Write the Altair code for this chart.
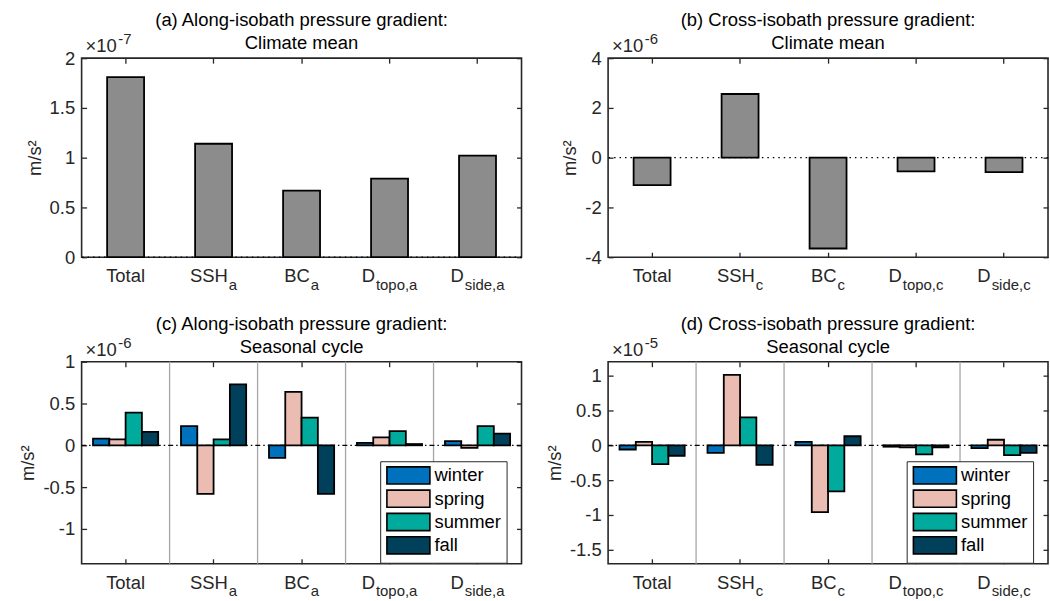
import altair as alt
import pandas as pd

# ---------------- data ----------------
cats = ["Total", "SSH", "BC", "Dtopo", "Dside"]
label_base = ["Total", "SSH", "BC", "D", "D"]
label_sub_a = ["", "a", "a", "topo,a", "side,a"]
label_sub_c = ["", "c", "c", "topo,c", "side,c"]

# climate mean (a) along-isobath, units of 1e-7 m/s^2
mean_along = [1.81, 1.14, 0.67, 0.79, 1.02]
# climate mean (b) cross-isobath, units of 1e-6 m/s^2
mean_cross = [-1.10, 2.56, -3.65, -0.55, -0.58]

seasons = ["winter", "spring", "summer", "fall"]
season_colors = ["#0072BD", "#EBBDB2", "#00AA9C", "#00405A"]

# seasonal cycle (c) along-isobath, units of 1e-6 m/s^2
winter_along = [0.08, 0.23, -0.15, 0.03, 0.05]
spring_along = [0.07, -0.58, 0.64, 0.095, -0.03]
summer_along = [0.39, 0.07, 0.33, 0.17, 0.23]
fall_along = [0.16, 0.73, -0.58, 0.015, 0.14]

# seasonal cycle (d) cross-isobath, units of 1e-5 m/s^2
winter_cross = [-0.06, -0.11, 0.05, -0.02, -0.04]
spring_cross = [0.05, 1.01, -0.96, -0.03, 0.08]
summer_cross = [-0.27, 0.40, -0.66, -0.13, -0.14]
fall_cross = [-0.15, -0.28, 0.13, -0.03, -0.11]

titles = [
    ["(a) Along-isobath pressure gradient:", "Climate mean"],
    ["(b) Cross-isobath pressure gradient:", "Climate mean"],
    ["(c) Along-isobath pressure gradient:", "Seasonal cycle"],
    ["(d) Cross-isobath pressure gradient:", "Seasonal cycle"],
]
exponents = ["-7", "-6", "-6", "-5"]
y_domains = [[0, 2], [-4, 4], [-1.417, 1], [-1.7, 1.2]]
y_ticks = [[0, 0.5, 1, 1.5, 2], [-4, -2, 0, 2, 4],
           [-1, -0.5, 0, 0.5, 1], [-1.5, -1, -0.5, 0, 0.5, 1]]

# ---------------- styling ----------------
FONT = "Liberation Sans"
FS = 18.5
FS_SMALL = 15
AX = "#262626"
W = 442
H_TOP = 200
H_BOT = 203

AW = {'T': 611, 'o': 556, 't': 278, 'a': 556, 'l': 222, 'S': 667, 'H': 722,
      'B': 667, 'C': 722, 'D': 722, 'p': 556, ',': 278, 's': 500, 'i': 222,
      'd': 556, 'e': 556, 'c': 500, '\u00d7': 584, '1': 556, '0': 556}


def tw(s, size):
    return sum(AW.get(ch, 556) for ch in s) * size / 1000.0


xscale = alt.Scale(type="band", domain=cats, paddingInner=0, paddingOuter=0)


def panel(idx, df, subs, seasonal, dash, height):
    yscale = alt.Scale(domain=y_domains[idx], nice=False, zero=False)
    ticks = y_ticks[idx]
    left_axis = alt.Axis(values=ticks, labelExpr="'' + datum.value", title="m/s\u00b2",
                         domain=False, grid=False, ticks=True, tickSize=5, offset=-5,
                         labelPadding=7, titlePadding=5, tickColor=AX, tickWidth=1.3,
                         labelFontSize=FS, labelColor=AX, titleFontSize=FS,
                         titleFontWeight="normal", titleColor=AX, labelFont=FONT, titleFont=FONT)
    right_axis = alt.Axis(orient="right", values=ticks, labels=False, title=None,
                          domain=False, grid=False, ticks=True, tickSize=5, offset=-5,
                          tickColor=AX, tickWidth=1.3)
    bottom_axis = alt.Axis(labels=False, title=None, domain=False, grid=False, ticks=True,
                           tickSize=5, offset=-5, tickColor=AX, tickWidth=1.3)
    top_axis = alt.Axis(orient="top", labels=False, title=None, domain=False, grid=False,
                        ticks=True, tickSize=5, offset=-5, tickColor=AX, tickWidth=1.3)

    layers = []
    if seasonal:
        sep = alt.Chart(pd.DataFrame({"cat": cats[1:]})).mark_rule(
            color="#a6a6a6", strokeWidth=1.3).encode(
            x=alt.X("cat:N", scale=xscale, axis=None, bandPosition=0))
        layers.append(sep)

    zero = alt.Chart(pd.DataFrame({"z": [0]})).mark_rule(
        color="black", strokeWidth=1.3, strokeDash=dash).encode(
        y=alt.Y("z:Q", scale=yscale, axis=None))
    layers.append(zero)

    if seasonal:
        bars = alt.Chart(df).mark_bar(stroke="black", strokeWidth=1.8, opacity=1).encode(
            x=alt.X("cat:N", scale=xscale, axis=bottom_axis, title=None),
            xOffset=alt.XOffset("season:N", sort=seasons,
                                scale=alt.Scale(domain=seasons, paddingOuter=0.7, paddingInner=0)),
            y=alt.Y("v:Q", scale=yscale, axis=left_axis, stack=None),
            color=alt.Color("season:N", sort=seasons,
                            scale=alt.Scale(domain=seasons, range=season_colors),
                            legend=alt.Legend(title=None, orient="none", legendX=300, legendY=100,
                                              fillColor="white", strokeColor=AX, padding=5,
                                              labelFontSize=FS, labelColor="black", labelFont=FONT,
                                              symbolType="M-1,-1.15H4.76V1.15H-1Z", symbolSize=225,
                                              symbolStrokeColor="black", symbolStrokeWidth=1.6,
                                              symbolOpacity=1, rowPadding=-1.6, labelOffset=31)),
        )
    else:
        bars = alt.Chart(df).mark_bar(stroke="black", strokeWidth=1.8, color="#8C8C8C",
                                      width={"band": 0.42}).encode(
            x=alt.X("cat:N", scale=xscale, axis=bottom_axis, title=None),
            y=alt.Y("v:Q", scale=yscale, axis=left_axis),
        )
    layers.append(bars)

    ghost = alt.Chart(pd.DataFrame({"cat": cats, "v": [0] * 5})).mark_point(opacity=0, size=1).encode(
        x=alt.X("cat:N", scale=xscale, axis=top_axis),
        y=alt.Y("v:Q", scale=yscale, axis=right_axis),
    )
    layers.append(ghost)

    # category labels with subscripts
    lab_df = pd.DataFrame({"cat": cats, "base": label_base, "sub": subs})
    for c, b, s in zip(cats, label_base, subs):
        if s:
            d = (tw(b, FS) - tw(s, FS_SMALL)) / 2.0
            t1 = alt.Chart(lab_df).transform_filter(alt.datum.cat == c).mark_text(
                align="right", baseline="alphabetic", dx=d - 0.5, fontSize=FS, font=FONT, color=AX).encode(
                x=alt.X("cat:N", scale=xscale, axis=None), y=alt.value(height + 25), text="base:N")
            t2 = alt.Chart(lab_df).transform_filter(alt.datum.cat == c).mark_text(
                align="left", baseline="alphabetic", dx=d + 0.5, fontSize=FS_SMALL, font=FONT, color=AX).encode(
                x=alt.X("cat:N", scale=xscale, axis=None), y=alt.value(height + 32.5), text="sub:N")
            layers += [t1, t2]
        else:
            t1 = alt.Chart(lab_df).transform_filter(alt.datum.cat == c).mark_text(
                align="center", baseline="alphabetic", fontSize=FS, font=FONT, color=AX).encode(
                x=alt.X("cat:N", scale=xscale, axis=None), y=alt.value(height + 25), text="base:N")
            layers.append(t1)

    # x10^n multiplier
    mult = alt.Chart(pd.DataFrame({"t": ["\u00d710"]})).mark_text(
        align="left", baseline="alphabetic", fontSize=FS, font=FONT, color=AX).encode(
        x=alt.value(4), y=alt.value(-6), text="t:N")
    expo = alt.Chart(pd.DataFrame({"t": [exponents[idx]]})).mark_text(
        align="left", baseline="alphabetic", fontSize=FS_SMALL, font=FONT, color=AX).encode(
        x=alt.value(4 + tw("\u00d710", FS) + 1.5), y=alt.value(-14), text="t:N")
    layers += [mult, expo]

    # two-line panel title
    t_df = pd.DataFrame({"line": titles[idx]})
    tl1 = alt.Chart(t_df).transform_filter(alt.datum.line == titles[idx][0]).mark_text(
        align="center", baseline="alphabetic", fontSize=FS, font=FONT, color="black").encode(
        x=alt.value(W / 2), y=alt.value(-32.3), text="line:N")
    tl2 = alt.Chart(t_df).transform_filter(alt.datum.line == titles[idx][1]).mark_text(
        align="center", baseline="alphabetic", fontSize=FS, font=FONT, color="black").encode(
        x=alt.value(W / 2), y=alt.value(-8.7), text="line:N")
    layers += [tl1, tl2]

    ch = alt.layer(*layers).resolve_axis(x="independent", y="independent").properties(
        width=W, height=height)
    return ch


df_a = pd.DataFrame({"cat": cats, "v": mean_along})
df_b = pd.DataFrame({"cat": cats, "v": mean_cross})


def season_df(w, sp, su, f):
    rows = []
    for name, vals in zip(seasons, [w, sp, su, f]):
        for c, v in zip(cats, vals):
            rows.append({"cat": c, "season": name, "v": v})
    return pd.DataFrame(rows)


df_c = season_df(winter_along, spring_along, summer_along, fall_along)
df_d = season_df(winter_cross, spring_cross, summer_cross, fall_cross)

pa = panel(0, df_a, label_sub_a, False, [1.5, 4], H_TOP)
pb = panel(1, df_b, label_sub_c, False, [1.5, 4], H_TOP)
pc = panel(2, df_c, label_sub_a, True, [5, 3, 1.5, 3], H_BOT)
pd_ = panel(3, df_d, label_sub_c, True, [5, 3, 1.5, 3], H_BOT)

chart = alt.concat(pa, pb, pc, pd_, columns=2, spacing={"row": 105, "column": 87},
                   bounds="flush").resolve_scale(color="independent").resolve_legend(
    color="independent").properties(
    padding={"left": 18, "top": 8, "right": 0, "bottom": 0}
).configure(font=FONT, background="white").configure_view(stroke=AX, strokeWidth=1.6)

chart.save("out.html", embed_options={"renderer": "svg", "actions": False})
